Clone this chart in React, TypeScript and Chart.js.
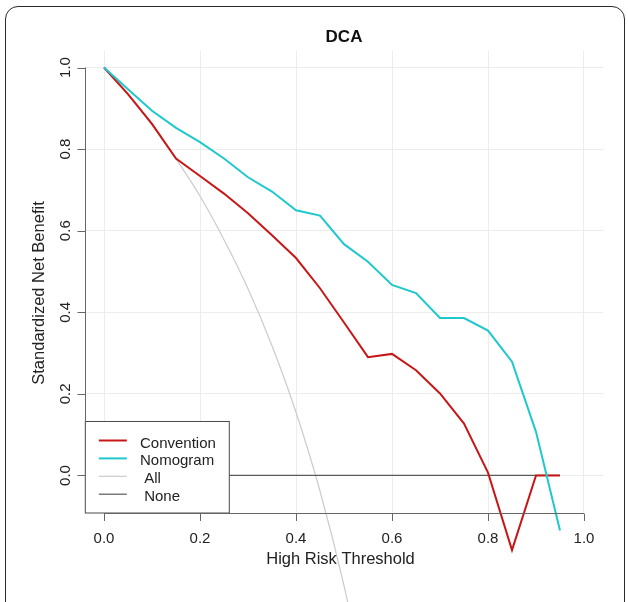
import React, { useEffect, useRef } from "react";
import { Chart, registerables } from "chart.js";

Chart.register(...registerables);

// ---------- data ----------
const thresholds = [0, 0.05, 0.1, 0.15, 0.2, 0.25, 0.3, 0.35, 0.4, 0.45, 0.5, 0.55, 0.6, 0.65, 0.7, 0.75, 0.8, 0.85, 0.9, 0.95];
const convention = [1.0, 0.935, 0.862, 0.777, 0.734, 0.691, 0.643, 0.589, 0.533, 0.459, 0.375, 0.29, 0.298, 0.258, 0.201, 0.127, 0.007, -0.183, 0.0, 0.0];
const nomogram = [1.0, 0.947, 0.894, 0.852, 0.817, 0.777, 0.731, 0.696, 0.65, 0.637, 0.567, 0.524, 0.467, 0.447, 0.386, 0.386, 0.355, 0.279, 0.107, -0.135];
const allThresholds = [0, 0.05, 0.1, 0.15, 0.2, 0.25, 0.3, 0.35, 0.4, 0.45, 0.5, 0.55];
const treatAll = [1.0, 0.933, 0.859, 0.776, 0.685, 0.578, 0.458, 0.318, 0.155, -0.038, -0.27, -0.55];
const treatNone = [0, 0, 0, 0, 0, 0, 0, 0, 0, 0, 0, 0, 0, 0, 0, 0, 0, 0, 0, 0];

const xTicks = [0, 0.2, 0.4, 0.6, 0.8, 1.0];
const xTickLabels = ["0.0", "0.2", "0.4", "0.6", "0.8", "1.0"];
const yTicks = [0, 0.2, 0.4, 0.6, 0.8, 1.0];
const yTickLabels = ["0.0", "0.2", "0.4", "0.6", "0.8", "1.0"];

const seriesLabels = ["Convention", "Nomogram", "All", "None"];
const legendLabels = ["Convention", "Nomogram", " All", " None"];
const chartTitle = "DCA";
const xTitle = "High Risk Threshold";
const yTitle = "Standardized Net Benefit";

// ---------- styles ----------
const FONT = "'Liberation Sans', Arial, Helvetica, sans-serif";
const RED = "#C81616";
const CYAN = "#1EC8CD";
const GRAY_ALL = "#CBCBCB";
const GRAY_NONE = "#5A5A5A";
const TEXT = "#222222";
const AXIS = "#666666";

const rDecor = {
  id: "rDecor",
  afterDatasetsDraw(chart: any) {
    const { ctx, chartArea: ca } = chart;
    // legend box (bottom-left, inside plot region)
    const bx = ca.left + 0.5;
    const bw = 144;
    const bh = 91.5;
    const by = ca.bottom - bh;
    ctx.save();
    ctx.fillStyle = "#ffffff";
    ctx.fillRect(bx, by, bw, bh);
    ctx.strokeStyle = "#4a4a4a";
    ctx.lineWidth = 1;
    ctx.strokeRect(bx, by, bw, bh);
    const ds = chart.data.datasets;
    const order = [0, 1, 2, 3];
    ctx.font = `15px ${FONT}`;
    ctx.fillStyle = TEXT;
    ctx.textAlign = "left";
    ctx.textBaseline = "alphabetic";
    order.forEach((di, i) => {
      const d = ds[di];
      const ry = by + 19 + i * 17.9;
      ctx.beginPath();
      ctx.strokeStyle = d.borderColor;
      ctx.lineWidth = di < 2 ? 2 : 1.2;
      ctx.moveTo(bx + 13.5, ry);
      ctx.lineTo(bx + 41.5, ry);
      ctx.stroke();
      ctx.fillText(legendLabels[i], bx + 54.7, ry + 7);
    });
    ctx.restore();
  },
  afterDraw(chart: any) {
    const { ctx, chartArea: ca, scales } = chart;
    const xs = scales.x;
    const ys = scales.y;
    ctx.save();
    ctx.strokeStyle = AXIS;
    ctx.lineWidth = 1;
    // x axis
    const yb = Math.round(ca.bottom) + 0.5;
    ctx.beginPath();
    ctx.moveTo(xs.getPixelForValue(xTicks[0]), yb);
    ctx.lineTo(xs.getPixelForValue(xTicks[xTicks.length - 1]), yb);
    xTicks.forEach((v) => {
      const px = Math.round(xs.getPixelForValue(v)) + 0.5;
      ctx.moveTo(px, yb);
      ctx.lineTo(px, yb + 7.5);
    });
    ctx.stroke();
    // y axis
    const xl = Math.round(ca.left) + 0.5;
    ctx.beginPath();
    ctx.moveTo(xl, ys.getPixelForValue(yTicks[0]));
    ctx.lineTo(xl, ys.getPixelForValue(yTicks[yTicks.length - 1]));
    yTicks.forEach((v) => {
      const py = Math.round(ys.getPixelForValue(v)) + 0.5;
      ctx.moveTo(xl, py);
      ctx.lineTo(xl - 8, py);
    });
    ctx.stroke();

    ctx.fillStyle = TEXT;
    ctx.font = `15px ${FONT}`;
    ctx.textAlign = "center";
    ctx.textBaseline = "alphabetic";
    xTicks.forEach((v, i) => {
      ctx.fillText(xTickLabels[i], xs.getPixelForValue(v), yb + 29.5);
    });
    yTicks.forEach((v, i) => {
      ctx.save();
      ctx.translate(xl - 16, ys.getPixelForValue(v));
      ctx.rotate(-Math.PI / 2);
      ctx.fillText(yTickLabels[i], 0, 0);
      ctx.restore();
    });
    // axis titles
    ctx.font = `16.5px ${FONT}`;
    ctx.fillText(xTitle, 340.5, 564);
    ctx.save();
    ctx.translate(44, 293);
    ctx.rotate(-Math.PI / 2);
    ctx.fillText(yTitle, 0, 0);
    ctx.restore();
    // main title
    ctx.font = `bold 17px ${FONT}`;
    ctx.fillStyle = "#111111";
    ctx.fillText(chartTitle, (ca.left + ca.right) / 2, 42);
    ctx.restore();
  },
};

export default function App() {
  const canvasRef = useRef<HTMLCanvasElement | null>(null);

  useEffect(() => {
    if (!canvasRef.current) return;
    const pts = (xsArr: number[], ysArr: number[]) => xsArr.map((x, i) => ({ x, y: ysArr[i] }));
    const chart = new Chart(canvasRef.current, {
      type: "line",
      data: {
        datasets: [
          {
            label: seriesLabels[0],
            data: pts(thresholds, convention),
            borderColor: RED,
            borderWidth: 2,
            pointRadius: 0,
            tension: 0,
            clip: false,
            order: 1,
          },
          {
            label: seriesLabels[1],
            data: pts(thresholds, nomogram),
            borderColor: CYAN,
            borderWidth: 2,
            pointRadius: 0,
            tension: 0,
            clip: false,
            order: 0,
          },
          {
            label: seriesLabels[2],
            data: pts(allThresholds, treatAll),
            borderColor: GRAY_ALL,
            borderWidth: 1.2,
            pointRadius: 0,
            cubicInterpolationMode: "monotone",
            clip: false,
            order: 3,
          },
          {
            label: seriesLabels[3],
            data: pts(thresholds, treatNone),
            borderColor: GRAY_NONE,
            borderWidth: 1.2,
            pointRadius: 0,
            tension: 0,
            clip: false,
            order: 2,
          },
        ],
      } as any,
      options: {
        responsive: false,
        animation: false,
        devicePixelRatio: 1,
        layout: { padding: { left: 0, right: 24.8, top: 50.4, bottom: 0 } },
        plugins: {
          legend: { display: false },
          tooltip: { enabled: false },
          title: { display: false },
        },
        scales: {
          x: {
            type: "linear",
            min: -0.04,
            max: 1.04,
            afterBuildTicks: (s: any) => {
              s.ticks = xTicks.map((v) => ({ value: v }));
            },
            afterFit: (s: any) => {
              s.height = 89;
            },
            grid: { color: "#ECECEC", lineWidth: 1, drawTicks: false },
            border: { display: false },
            ticks: { display: false },
          },
          y: {
            type: "linear",
            min: -0.092,
            max: 1.042,
            afterBuildTicks: (s: any) => {
              s.ticks = yTicks.map((v) => ({ value: v }));
            },
            afterFit: (s: any) => {
              s.width = 84.8;
            },
            grid: { color: "#ECECEC", lineWidth: 1, drawTicks: false },
            border: { display: false },
            ticks: { display: false },
          },
        },
      } as any,
      plugins: [rDecor],
    });
    return () => chart.destroy();
  }, []);

  return (
    <div
      style={{
        position: "fixed",
        left: 0,
        top: 0,
        width: 628,
        height: 602,
        overflow: "hidden",
        background: "#ffffff",
      }}
    >
      <div
        style={{
          position: "absolute",
          left: 5,
          top: 6,
          width: 620,
          height: 640,
          boxSizing: "border-box",
          border: "1.5px solid #2a2a2a",
          borderRadius: 13,
        }}
      />
      <canvas
        ref={canvasRef}
        width={628}
        height={602}
        style={{ position: "absolute", left: 0, top: 0, display: "block" }}
      />
    </div>
  );
}
